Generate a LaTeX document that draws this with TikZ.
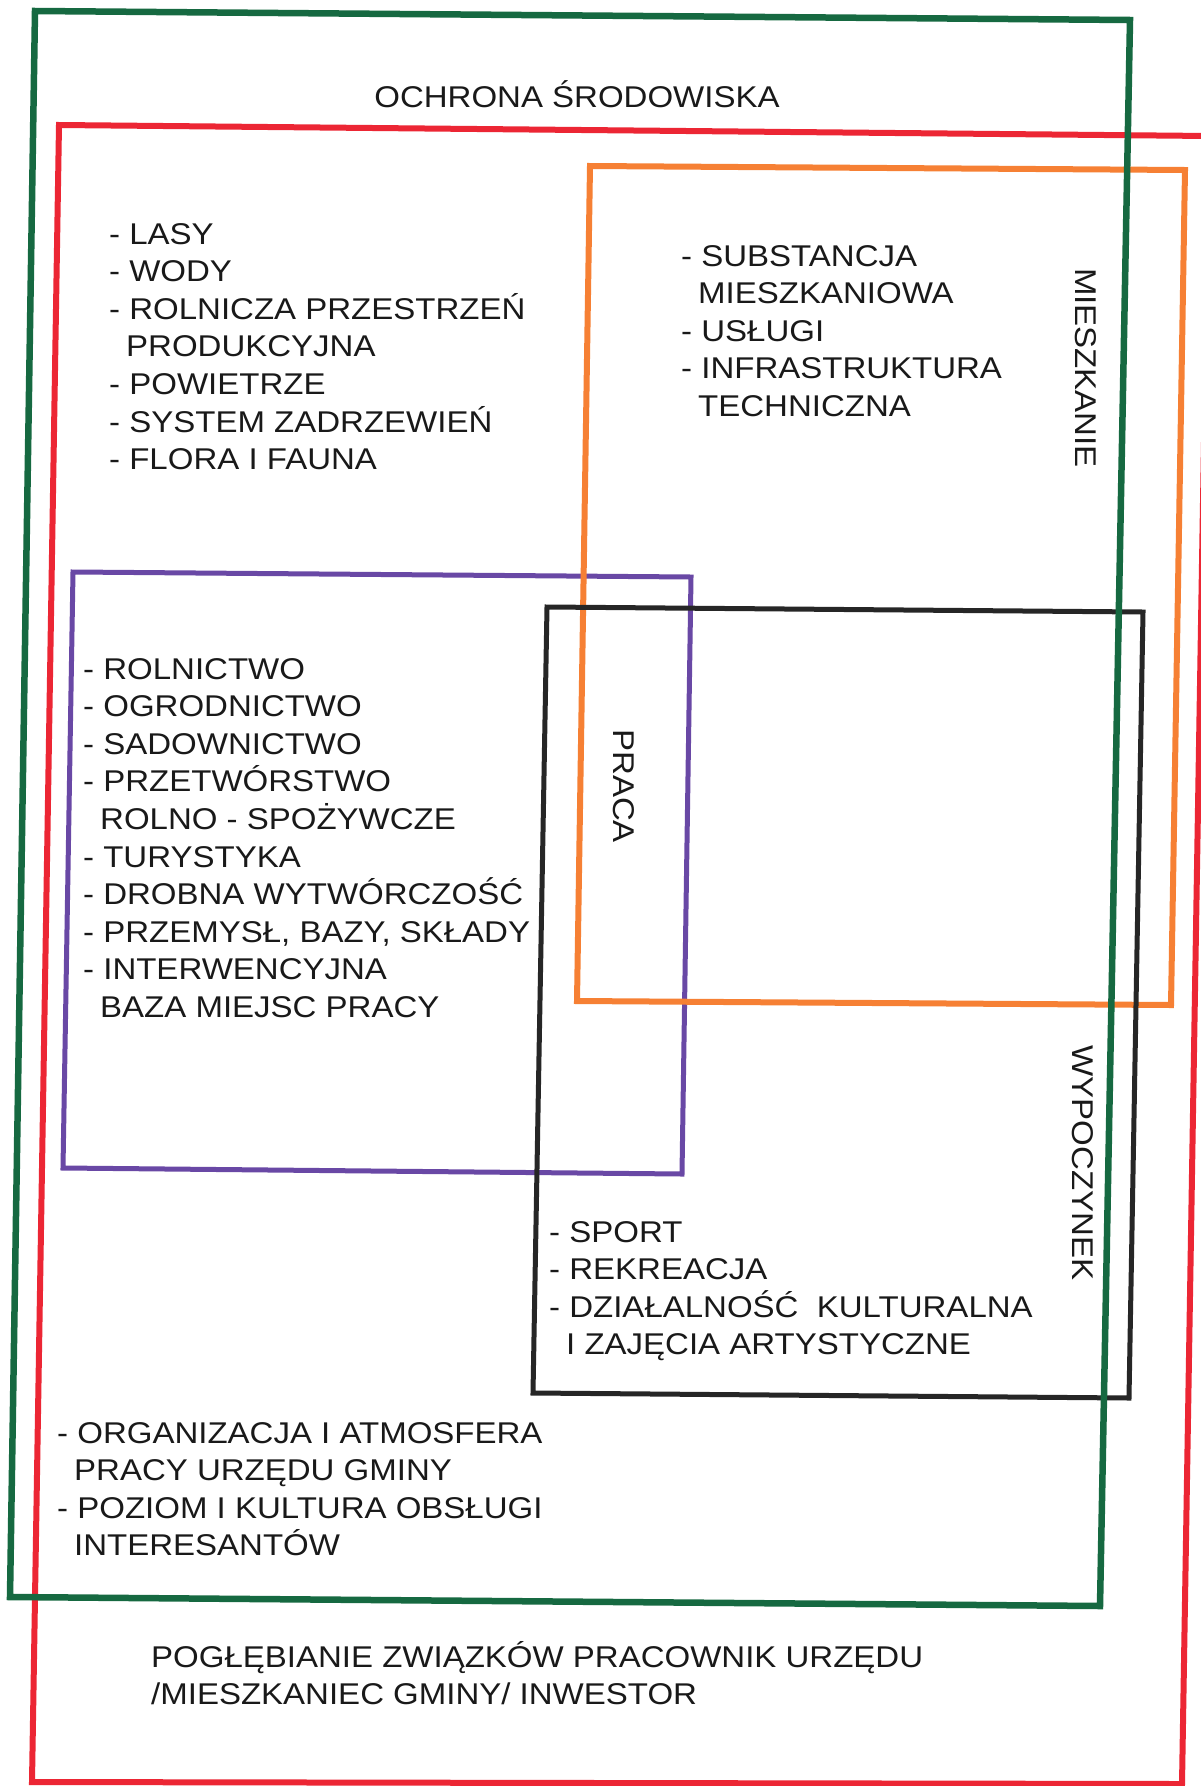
\documentclass[tikz,border=0pt]{standalone}
\usepackage{fontspec}
\setmainfont[FakeStretch=1.1]{Liberation Sans}
\definecolor{cgreen}{RGB}{22,105,65}
\definecolor{cred}{RGB}{236,38,52}
\definecolor{corange}{RGB}{246,128,52}
\definecolor{cpurple}{RGB}{105,72,165}
\definecolor{cblack}{RGB}{38,38,38}
\definecolor{ctext}{RGB}{25,25,25}
\newcommand\ind{\hspace*{17pt}}
\begin{document}
\begin{tikzpicture}[x=1pt,y=-1pt,
  lbl/.style={anchor=base west, align=left, inner sep=0pt, text=ctext, font=\fontsize{30}{37.6}\selectfont},
  vlbl/.style={rotate=-90, inner sep=0pt, text=ctext, font=\fontsize{30}{37.6}\selectfont},
  frame/.style={line width=6pt, line join=miter}]
\useasboundingbox[fill=white] (0,0) rectangle (1200,1786);
% red
\coordinate (r1) at (59,125); \coordinate (r2) at (1209,136);
\coordinate (r3) at (1182,1784); \coordinate (r4) at (32,1782);
\draw[frame, cred] (r1) -- (r2) -- (r3) -- (r4) -- cycle;
% purple
\coordinate (p1) at (73,572); \coordinate (p2) at (691,577);
\coordinate (p3) at (682,1174); \coordinate (p4) at (63,1168);
\draw[frame, cpurple, line width=5pt] (p1) -- (p2) -- (p3) -- (p4) -- cycle;
% orange
\coordinate (o1) at (590,166); \coordinate (o2) at (1185,170);
\coordinate (o3) at (1171,1005); \coordinate (o4) at (577,1001);
\draw[frame, corange] (o1) -- (o2) -- (o3) -- (o4) -- cycle;
% black
\coordinate (b1) at (547,607); \coordinate (b2) at (1143,612);
\coordinate (b3) at (1129,1398); \coordinate (b4) at (533,1393);
\draw[frame, cblack, line width=5pt] (b1) -- (b2) -- (b3) -- (b4) -- cycle;
% green
\coordinate (g1) at (35,11); \coordinate (g2) at (1130,20);
\coordinate (g3) at (1100,1606); \coordinate (g4) at (10,1597);
\draw[frame, cgreen, line width=6.5pt] (g1) -- (g2) -- (g3) -- (g4) -- cycle;

\node[lbl, anchor=base] (title) at (577,107) {OCHRONA ŚRODOWISKA};
\node[lbl] (env) at (109,469.6) {- LASY\\- WODY\\- ROLNICZA PRZESTRZEŃ\\\ind PRODUKCYJNA\\- POWIETRZE\\- SYSTEM ZADRZEWIEŃ\\- FLORA I FAUNA};
\node[lbl] (home) at (681,416.4) {- SUBSTANCJA\\\ind MIESZKANIOWA\\- USŁUGI\\- INFRASTRUKTURA\\\ind TECHNICZNA};
\node[lbl] (work) at (83,1017.4) {- ROLNICTWO\\- OGRODNICTWO\\- SADOWNICTWO\\- PRZETWÓRSTWO\\\ind ROLNO - SPOŻYWCZE\\- TURYSTYKA\\- DROBNA WYTWÓRCZOŚĆ\\- PRZEMYSŁ, BAZY, SKŁADY\\- INTERWENCYJNA\\\ind BAZA MIEJSC PRACY};
\node[lbl] (rest) at (549,1354.8) {- SPORT\\- REKREACJA\\- DZIAŁALNOŚĆ~ KULTURALNA\\\ind I ZAJĘCIA ARTYSTYCZNE};
\node[lbl] (office) at (57,1555.8) {- ORGANIZACJA I ATMOSFERA\\\ind PRACY URZĘDU GMINY\\- POZIOM I KULTURA OBSŁUGI\\\ind INTERESANTÓW};
\node[lbl] (bottom) at (151,1704.6) {POGŁĘBIANIE ZWIĄZKÓW PRACOWNIK URZĘDU\\/MIESZKANIEC GMINY/ INWESTOR};

\node[vlbl] (mieszk) at (1086,368) {MIESZKANIE};
\node[vlbl] (praca) at (624,786) {PRACA};
\node[vlbl] (wypo) at (1083,1163) {WYPOCZYNEK};
\end{tikzpicture}
\end{document}
